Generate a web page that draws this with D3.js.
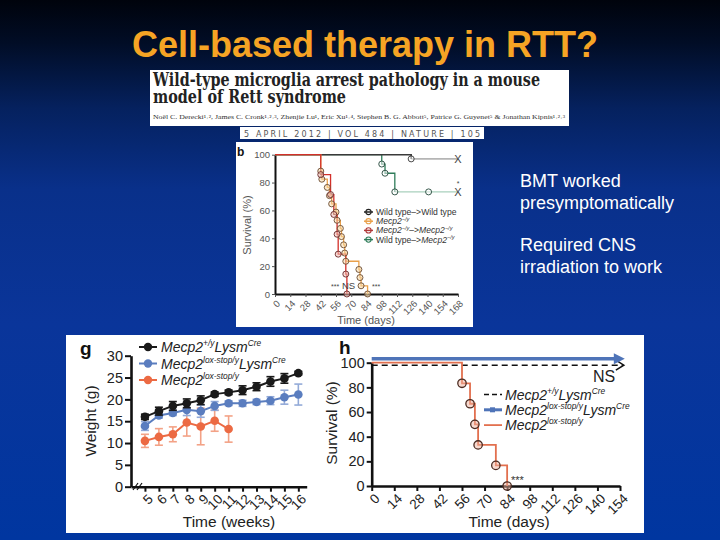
<!DOCTYPE html>
<html><head><meta charset="utf-8">
<script src="https://cdn.jsdelivr.net/npm/d3@7"></script>
<style>html,body{margin:0;padding:0;background:#000;}svg{display:block;font-family:"Liberation Sans",Arial,sans-serif;}</style>
</head><body>
<svg id="c" width="720" height="540"></svg>
<script>
// ---------------- DATA ----------------
const slideTitle = "Cell-based therapy in RTT?";
const bulletLines = ["BMT worked", "presymptomatically", "Required CNS", "irradiation to work"];
const paperTitle = ["Wild-type microglia arrest pathology in a mouse", "model of Rett syndrome"];
const paperAuthors = "Noël C. Derecki\u00B9\u02D2\u00B2, James C. Cronk\u00B9\u02D2\u00B2\u02D2\u00B3, Zhenjie Lu\u00B9, Eric Xu\u00B9\u02D2\u2074, Stephen B. G. Abbott\u2075, Patrice G. Guyenet\u2075 & Jonathan Kipnis\u00B9\u02D2\u00B2\u02D2\u00B3";
const paperCitation = "5 APRIL 2012 | VOL 484 | NATURE | 105";

// Panel b (Kaplan-Meier, days vs survival %)
const bTicksX = [0, 14, 28, 42, 56, 70, 84, 98, 112, 126, 140, 154, 168];
const bTicksY = [0, 20, 40, 60, 80, 100];
const bWtWtDays = [0, 125];
const bWtWtSurv = [100, 97];
const bWtWtCircleDays = [125];
const bWtKoDays = [0, 98, 101, 110];
const bWtKoSurv = [100, 93.3, 86.7, 73.3];
const bWtKoCircleDays = [98, 101, 110, 141];
const bWtKoCircleSurv = [93.3, 86.7, 73.3, 73.3];
const bKoDays = [0, 42, 43, 48, 50, 52, 56, 57, 60, 61, 63, 64, 65, 77, 78, 79, 85];
const bKoSurv = [100, 88.2, 82.4, 76.5, 70.6, 64.7, 58.8, 52.9, 47.1, 41.2, 35.3, 29.4, 23.5, 17.6, 11.8, 5.9, 0];
const bKoKoDays = [0, 42, 51, 54, 57, 58, 65, 66];
const bKoKoSurv = [100, 85.7, 71.4, 57.1, 42.9, 28.6, 14.3, 0];
const bEndDay = 168;
const bLegend = [
  [["Wild type\u2013>Wild type", 0, 0]],
  [["Mecp2", 1, 0], ["\u2212/y", 1, 1]],
  [["Mecp2", 1, 0], ["\u2212/y", 1, 1], ["\u2013>", 0, 0], ["Mecp2", 1, 0], ["\u2212/y", 1, 1]],
  [["Wild type\u2013>", 0, 0], ["Mecp2", 1, 0], ["\u2212/y", 1, 1]]
];

// Panel g (weight, weeks)
const gWeeks = [5, 6, 7, 8, 9, 10, 11, 12, 13, 14, 15, 16];
const gTicksY = [0, 5, 10, 15, 20, 25, 30];
const gWtMean = [16.0, 17.3, 18.5, 19.1, 19.8, 21.2, 21.6, 22.1, 22.9, 24.1, 24.8, 26.0];
const gWtErr  = [0.6, 0.9, 1.0, 1.0, 1.0, 0.5, 0.5, 1.0, 0.9, 1.1, 1.1, 0.4];
const gRescueMean = [13.9, 16.3, 16.9, 17.6, 17.3, 18.5, 19.1, 19.1, 19.4, 19.7, 20.5, 21.1];
const gRescueErr  = [1.0, 0.6, 0.6, 1.3, 1.4, 1.0, 0.5, 0.7, 0.6, 0.9, 1.6, 2.4];
const gNullWeeks = [5, 6, 7, 8, 9, 10, 11];
const gNullMean = [10.5, 11.4, 12.0, 14.7, 13.8, 15.1, 13.2];
const gNullErr  = [1.5, 1.9, 1.7, 3.1, 4.2, 2.4, 3.0];

// Panel h (survival, days)
const hTicksX = [0, 14, 28, 42, 56, 70, 84, 98, 112, 126, 140, 154];
const hTicksY = [0, 20, 40, 60, 80, 100];
const hNullDays = [0, 56, 61, 64, 66, 77, 84];
const hNullSurv = [100, 83.3, 66.7, 50, 33.3, 16.7, 0];
const hArrowEndDay = 157;

const ghLegend = [
  [["Mecp2", 1, 0], ["+/y", 1, 1], ["Lysm", 1, 0], ["Cre", 1, 1]],
  [["Mecp2", 1, 0], ["lox-stop/y", 1, 1], ["Lysm", 1, 0], ["Cre", 1, 1]],
  [["Mecp2", 1, 0], ["lox-stop/y", 1, 1]]
];

// ---------------- DRAW ----------------
const svg = d3.select("#c");
const defs = svg.append("defs");
const bg = defs.append("linearGradient").attr("id", "bg").attr("x1", 0).attr("y1", 0).attr("x2", 0).attr("y2", 1);
[[0, "#00030c"], [0.08, "#010d26"], [0.2, "#05215e"], [0.35, "#09308a"], [0.6, "#0a359a"], [1, "#0036a0"]]
  .forEach(s => bg.append("stop").attr("offset", s[0]).attr("stop-color", s[1]));
svg.append("rect").attr("width", 720).attr("height", 540).attr("fill", "url(#bg)");

svg.append("text").attr("x", 365).attr("y", 57).attr("text-anchor", "middle")
  .attr("font-size", 36).attr("font-weight", "bold").attr("fill", "#f6a424").text(slideTitle);

// paper header
svg.append("rect").attr("x", 150).attr("y", 70).attr("width", 419).attr("height", 56).attr("fill", "#fff");
svg.append("text").attr("x", 153).attr("y", 86).attr("font-family", "'DejaVu Serif','Liberation Serif',serif")
  .attr("font-weight", "bold").attr("font-size", 18.5).attr("fill", "#222")
  .attr("textLength", 387).attr("lengthAdjust", "spacingAndGlyphs").text(paperTitle[0]);
svg.append("text").attr("x", 153).attr("y", 103).attr("font-family", "'DejaVu Serif','Liberation Serif',serif")
  .attr("font-weight", "bold").attr("font-size", 18.5).attr("fill", "#222")
  .attr("textLength", 193).attr("lengthAdjust", "spacingAndGlyphs").text(paperTitle[1]);
svg.append("text").attr("x", 153).attr("y", 119).attr("font-family", "'Liberation Serif',serif")
  .attr("font-size", 6).attr("fill", "#333")
  .attr("textLength", 412).attr("lengthAdjust", "spacingAndGlyphs").text(paperAuthors);
svg.append("rect").attr("x", 240).attr("y", 127).attr("width", 244).attr("height", 12).attr("fill", "#fff");
svg.append("text").attr("x", 244).attr("y", 136.5).attr("font-family", "'DejaVu Sans','Liberation Sans',sans-serif")
  .attr("font-size", 8).attr("fill", "#555")
  .attr("textLength", 236).attr("lengthAdjust", "spacing").text(paperCitation);

// bullet text
svg.selectAll("text.bul").data(bulletLines).join("text").attr("class", "bul")
  .attr("x", 520).attr("y", (d, i) => [187, 209, 251, 273][i])
  .attr("font-size", 18).attr("fill", "#fff").text(d => d);

// helper for rich text
function rich(g, x, y, segs, size, color, supScale) {
  const ss = supScale || 0.64;
  const t = g.append("text").attr("x", x).attr("y", y).attr("font-size", size).attr("fill", color);
  let shift = 0;
  segs.forEach(s => {
    const target = s[2] ? -size * 0.42 : 0;
    t.append("tspan").attr("dy", target - shift)
      .attr("font-size", s[2] ? size * ss : size)
      .attr("font-style", s[1] ? "italic" : "normal").text(s[0]);
    shift = target;
  });
  return t;
}
function rotLabels(axisG, dx, dy) {
  axisG.selectAll(".tick text").attr("x", 0).attr("y", 0).attr("dy", "0.35em")
    .attr("text-anchor", "end")
    .attr("transform", `translate(${dx},${dy}) rotate(-45)`);
}

// ---------- Panel b ----------
svg.append("rect").attr("x", 236).attr("y", 142).attr("width", 237).attr("height", 185).attr("fill", "#fff");
const pb = svg.append("g");
const xB = d3.scaleLinear().domain([0, 168]).range([275, 458]);
const yB = d3.scaleLinear().domain([0, 100]).range([294, 154.7]);
const axB = pb.append("g").attr("transform", "translate(0,294)")
  .call(d3.axisBottom(xB).tickValues(bTicksX).tickSize(3).tickSizeOuter(0));
rotLabels(axB, 3, 8);
const ayB = pb.append("g").attr("transform", "translate(275,0)")
  .call(d3.axisLeft(yB).tickValues(bTicksY).tickSize(3).tickSizeOuter(0).tickPadding(2));
[axB, ayB].forEach(a => {
  a.select(".domain").attr("stroke", "#111").attr("stroke-width", 2);
  a.selectAll(".tick line").attr("stroke", "#555");
  a.selectAll(".tick text").attr("font-size", 9.5).attr("fill", "#555").attr("font-family", "'Liberation Sans',Arial");
});
pb.append("text").attr("x", 237).attr("y", 156).attr("font-size", 12).attr("font-weight", "bold").attr("fill", "#111").text("b");
pb.append("text").attr("transform", "translate(251,225) rotate(-90)").attr("text-anchor", "middle")
  .attr("font-size", 11).attr("fill", "#555").text("Survival (%)");
pb.append("text").attr("x", 366).attr("y", 324).attr("text-anchor", "middle")
  .attr("font-size", 11).attr("fill", "#555").text("Time (days)");

const stepB = d3.line().x(d => xB(d[0])).y(d => yB(d[1])).curve(d3.curveStepAfter);
const zipB = (a, b) => a.map((d, i) => [d, b[i]]);
pb.append("path").attr("d", stepB([[bWtWtDays[1], bWtWtSurv[1]], [bEndDay, bWtWtSurv[1]]]))
  .attr("stroke", "#b5b5b5").attr("stroke-width", 1.6).attr("fill", "none");
pb.append("path").attr("d", stepB([[bWtKoDays[3], bWtKoSurv[3]], [bEndDay, bWtKoSurv[3]]]))
  .attr("stroke", "#a9d0bd").attr("stroke-width", 1.2).attr("fill", "none");
pb.append("path").attr("d", stepB(zipB(bWtKoDays, bWtKoSurv))).attr("stroke", "#2f7d5a").attr("stroke-width", 1.3).attr("fill", "none");
pb.append("path").attr("d", stepB(zipB(bWtWtDays, bWtWtSurv))).attr("stroke", "#3a3a3a").attr("stroke-width", 1.6).attr("fill", "none");
pb.append("path").attr("d", stepB(zipB(bKoDays, bKoSurv))).attr("stroke", "#e9a04a").attr("stroke-width", 1.3).attr("fill", "none");
pb.append("path").attr("d", stepB(zipB(bKoKoDays, bKoKoSurv))).attr("stroke", "#d3302a").attr("stroke-width", 1.3).attr("fill", "none");
function circlesB(days, surv, stroke, fill) {
  pb.append("g").selectAll("circle").data(days.map((d, i) => [d, surv[i]])).join("circle")
    .attr("cx", d => xB(d[0])).attr("cy", d => yB(d[1])).attr("r", 3)
    .attr("stroke", stroke).attr("stroke-width", 0.9).attr("fill", fill);
}
circlesB(bWtWtCircleDays, [bWtWtSurv[1]], "#333", "rgba(255,255,255,0.5)");
circlesB(bWtKoCircleDays, bWtKoCircleSurv, "#24473a", "rgba(255,255,255,0.5)");
circlesB(bKoDays.slice(1), bKoSurv.slice(1), "#6a4a30", "rgba(250,220,170,0.55)");
circlesB(bKoKoDays.slice(1), bKoKoSurv.slice(1), "#6a2a2a", "rgba(240,190,180,0.55)");
pb.append("text").attr("x", xB(bEndDay)).attr("y", yB(bWtWtSurv[1]) + 4).attr("text-anchor", "middle").attr("font-size", 11).attr("fill", "#444").text("X");
pb.append("text").attr("x", xB(bEndDay)).attr("y", yB(bWtKoSurv[3]) + 4).attr("text-anchor", "middle").attr("font-size", 11).attr("fill", "#444").text("X");
pb.append("text").attr("x", xB(bEndDay)).attr("y", yB(bWtKoSurv[3]) - 6).attr("text-anchor", "middle").attr("font-size", 7).attr("fill", "#444").text("*");
pb.append("text").attr("x", 331).attr("y", 289).attr("font-size", 7).attr("fill", "#444").text("***");
pb.append("text").attr("x", 342).attr("y", 289).attr("font-size", 9.5).attr("fill", "#444").text("NS");
pb.append("text").attr("x", 372).attr("y", 289).attr("font-size", 7).attr("fill", "#444").text("***");
const bLegCol = ["#222", "#e9a04a", "#b03a3a", "#2f7d5a"];
bLegend.forEach((segs, i) => {
  const cy = 212 + i * 9.2;
  pb.append("line").attr("x1", 364).attr("x2", 373).attr("y1", cy).attr("y2", cy).attr("stroke", bLegCol[i]).attr("stroke-width", 1.5);
  pb.append("circle").attr("cx", 368.5).attr("cy", cy).attr("r", 2.6).attr("fill", "none").attr("stroke", bLegCol[i]).attr("stroke-width", 1.1);
  rich(pb, 376, cy + 3, segs, 8.6, "#333");
});

// ---------- Bottom box ----------
svg.append("rect").attr("x", 66).attr("y", 335).attr("width", 578).attr("height", 198).attr("fill", "#fff");

// Panel g
const pg = svg.append("g");
const xG = d3.scaleLinear().domain([4, 16.6]).range([131, 306.7]);
const yG = d3.scaleLinear().domain([0, 30]).range([486.7, 355.7]);
const axG = pg.append("g").attr("transform", "translate(0,486.7)")
  .call(d3.axisBottom(xG).tickValues(gWeeks).tickSize(5).tickSizeOuter(0));
rotLabels(axG, 5, 10);
const ayG = pg.append("g").attr("transform", "translate(131,0)")
  .call(d3.axisLeft(yG).tickValues(gTicksY).tickSize(6).tickSizeOuter(0).tickPadding(2));
[axG, ayG].forEach(a => {
  a.select(".domain").attr("stroke", "#111").attr("stroke-width", 2.6);
  a.selectAll(".tick line").attr("stroke", "#111").attr("stroke-width", 2);
  a.selectAll(".tick text").attr("font-size", 14.5).attr("fill", "#222").attr("font-family", "'Liberation Sans',Arial");
});
axG.selectAll(".tick text").attr("font-size", 13.5);
[0, 4].forEach(o => pg.append("line").attr("x1", 133 + o).attr("y1", 490).attr("x2", 138 + o).attr("y2", 483).attr("stroke", "#111").attr("stroke-width", 1.2));
pg.append("text").attr("x", 80).attr("y", 355).attr("font-size", 19).attr("font-weight", "bold").attr("fill", "#111").text("g");
pg.append("text").attr("transform", "translate(96,421) rotate(-90)").attr("text-anchor", "middle")
  .attr("font-size", 15.5).attr("fill", "#222").text("Weight (g)");
pg.append("text").attr("x", 229).attr("y", 527).attr("text-anchor", "middle")
  .attr("font-size", 15.5).attr("fill", "#222").text("Time (weeks)");

function gSeries(weeks, mean, err, col, errCol) {
  const pts = weeks.map((w, i) => [w, mean[i], err[i]]);
  const eb = pg.append("g").attr("stroke", errCol).attr("stroke-width", 1.6);
  pts.forEach(p => {
    eb.append("line").attr("x1", xG(p[0])).attr("x2", xG(p[0])).attr("y1", yG(p[1] - p[2])).attr("y2", yG(p[1] + p[2]));
    [p[1] - p[2], p[1] + p[2]].forEach(v => eb.append("line").attr("x1", xG(p[0]) - 4).attr("x2", xG(p[0]) + 4).attr("y1", yG(v)).attr("y2", yG(v)));
  });
  pg.append("path").attr("d", d3.line().x(d => xG(d[0])).y(d => yG(d[1]))(pts))
    .attr("stroke", col).attr("stroke-width", 2).attr("fill", "none");
  pg.append("g").selectAll("circle").data(pts).join("circle")
    .attr("cx", d => xG(d[0])).attr("cy", d => yG(d[1])).attr("r", 4.3).attr("fill", col);
}
gSeries(gNullWeeks, gNullMean, gNullErr, "#ec6a43", "#f3a286");
gSeries(gWeeks, gRescueMean, gRescueErr, "#5a7dbf", "#93aad8");
gSeries(gWeeks, gWtMean, gWtErr, "#1a1a1a", "#1a1a1a");
const gLegCol = ["#1a1a1a", "#5a7dbf", "#ec6a43"];
ghLegend.forEach((segs, i) => {
  const cy = 347 + i * 16.5;
  pg.append("line").attr("x1", 139).attr("x2", 157).attr("y1", cy).attr("y2", cy).attr("stroke", gLegCol[i]).attr("stroke-width", 2);
  pg.append("circle").attr("cx", 148).attr("cy", cy).attr("r", 4.2).attr("fill", gLegCol[i]);
  rich(pg, 161, cy + 5, segs, 14, "#222", 0.6);
});

// Panel h
const ph = svg.append("g");
const xH = d3.scaleLinear().domain([0, 154]).range([371.7, 620]);
const yH = d3.scaleLinear().domain([0, 100]).range([486, 362.7]);
const axH = ph.append("g").attr("transform", "translate(0,486)")
  .call(d3.axisBottom(xH).tickValues(hTicksX).tickSize(5).tickSizeOuter(0));
rotLabels(axH, 5, 10);
const ayH = ph.append("g").attr("transform", "translate(371.7,0)")
  .call(d3.axisLeft(yH).tickValues(hTicksY).tickSize(5).tickSizeOuter(0).tickPadding(2));
[axH, ayH].forEach(a => {
  a.select(".domain").attr("stroke", "#111").attr("stroke-width", 2.6);
  a.selectAll(".tick line").attr("stroke", "#111").attr("stroke-width", 2);
  a.selectAll(".tick text").attr("font-size", 14.5).attr("fill", "#222").attr("font-family", "'Liberation Sans',Arial");
});
axH.selectAll(".tick text").attr("font-size", 13.5);
ph.append("text").attr("x", 339).attr("y", 354).attr("font-size", 19).attr("font-weight", "bold").attr("fill", "#111").text("h");
ph.append("text").attr("transform", "translate(337,423) rotate(-90)").attr("text-anchor", "middle")
  .attr("font-size", 15.5).attr("fill", "#222").text("Survival (%)");
ph.append("text").attr("x", 509).attr("y", 527).attr("text-anchor", "middle")
  .attr("font-size", 15.5).attr("fill", "#222").text("Time (days)");
const yBlk = yH(100) + 2.5, yBlu = yH(100) - 4;
ph.append("line").attr("x1", xH(0)).attr("x2", xH(hArrowEndDay) - 2).attr("y1", yBlk).attr("y2", yBlk)
  .attr("stroke", "#111").attr("stroke-width", 1.5).attr("stroke-dasharray", "6,4");
ph.append("path").attr("d", `M${xH(hArrowEndDay) - 9},${yBlk - 5} L${xH(hArrowEndDay) - 1},${yBlk} L${xH(hArrowEndDay) - 9},${yBlk + 5}`)
  .attr("stroke", "#111").attr("stroke-width", 1.5).attr("fill", "none");
ph.append("line").attr("x1", xH(0)).attr("x2", xH(hArrowEndDay) - 6).attr("y1", yBlu).attr("y2", yBlu)
  .attr("stroke", "#4f74b8").attr("stroke-width", 3.5);
ph.append("path").attr("d", `M${xH(hArrowEndDay) - 11},${yBlu - 5.5} L${xH(hArrowEndDay)},${yBlu} L${xH(hArrowEndDay) - 11},${yBlu + 5.5} Z`)
  .attr("fill", "#4f74b8");
ph.append("path").attr("d", d3.line().x(d => xH(d[0])).y(d => yH(d[1])).curve(d3.curveStepAfter)(hNullDays.map((d, i) => [d, hNullSurv[i]])))
  .attr("stroke", "#e2704f").attr("stroke-width", 1.8).attr("fill", "none");
ph.append("g").selectAll("circle").data(hNullDays.slice(1).map((d, i) => [d, hNullSurv[i + 1]])).join("circle")
  .attr("cx", d => xH(d[0])).attr("cy", d => yH(d[1])).attr("r", 4.2)
  .attr("stroke", "#4a2a20").attr("stroke-width", 1.3).attr("fill", "rgba(240,180,160,0.5)");
ph.append("text").attr("x", 593).attr("y", 382).attr("font-size", 16).attr("fill", "#222").text("NS");
ph.append("text").attr("x", 511).attr("y", 484).attr("font-size", 11).attr("fill", "#333").text("***");
const hLegCol = ["#111", "#4f74b8", "#e2704f"];
ghLegend.forEach((segs, i) => {
  const cy = 394.5 + i * 15.3;
  const ln = ph.append("line").attr("x1", 484).attr("x2", 502).attr("y1", cy).attr("y2", cy).attr("stroke", hLegCol[i]);
  if (i === 0) ln.attr("stroke-width", 1.5).attr("stroke-dasharray", "5,3");
  else if (i === 1) { ln.attr("stroke-width", 3); ph.append("rect").attr("x", 490).attr("y", cy - 2.5).attr("width", 5).attr("height", 5).attr("fill", hLegCol[i]); }
  else ln.attr("stroke-width", 1.8);
  rich(ph, 505, cy + 5, segs, 14, "#222", 0.6);
});
</script>
</body></html>
